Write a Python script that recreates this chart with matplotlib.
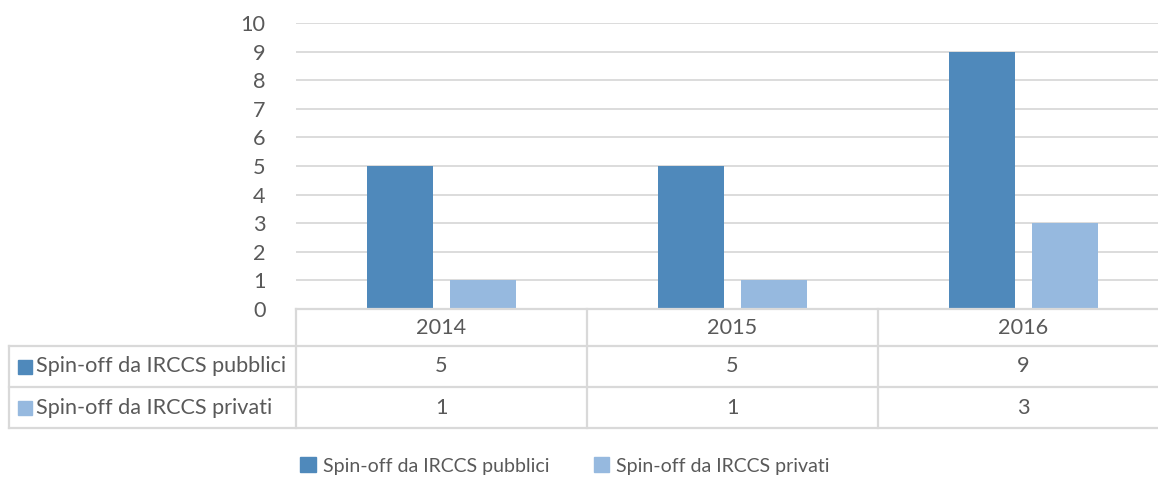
import matplotlib.pyplot as plt
import numpy as np
from matplotlib.patches import Rectangle

years = ['2014', '2015', '2016']
series = ['Spin-off da IRCCS pubblici', 'Spin-off da IRCCS privati']
pubblici = [5, 5, 9]
privati = [1, 1, 3]
colors = ['#4f89bb', '#96b9df']

W, H = 1158, 478
plt.rcParams['font.family'] = ['Lato', 'DejaVu Sans']
txt = '#595959'
grid = '#d9d9d9'
fs = 15.6

fig = plt.figure(figsize=(W/100, H/100), dpi=100)

# plot area (right edge runs past the picture, as in the original)
x0, x1 = 296, 1169
ax = fig.add_axes([x0/W, (H-309)/H, (x1-x0)/W, (309-23)/H])
x = np.arange(len(years))
bw = 0.225
ax.bar(x - 0.1426, pubblici, bw, color=colors[0], zorder=3)
ax.bar(x + 0.1426, privati, bw, color=colors[1], zorder=3)
ax.set_xlim(-0.5, 2.5)
ax.set_ylim(0, 10)
ax.set_yticks(range(0, 11))
ax.yaxis.grid(True, color=grid, lw=1.3, zorder=0)
ax.set_xticks([])
for s in ax.spines.values():
    s.set_visible(False)
ax.tick_params(axis='y', length=0, pad=22, labelsize=fs, labelcolor=txt)

# data table below the plot
tb = fig.add_axes([x0/W, (H-428)/H, (x1-x0)/W, (428-309)/H])
tb.set_xlim(-0.5, 2.5)
tb.set_ylim(119, 0)
tb.axis('off')
edges = [0, 37, 78, 119]
left = -0.5 - (x0 - 9) / 291
kw = dict(color=grid, lw=1.6, clip_on=False)
tb.plot([-0.5, 2.5], [0, 0], **kw)
for e in edges[1:]:
    tb.plot([left, 2.5], [e, e], **kw)
for xv in [-0.5, 0.5, 1.5]:
    tb.plot([xv, xv], [0, 119], **kw)
tb.plot([left, left], [37, 119], **kw)
for i, yr in enumerate(years):
    tb.text(i, 18.5, yr, ha='center', va='center', fontsize=fs, color=txt)
    tb.text(i, 57.5, str(pubblici[i]), ha='center', va='center', fontsize=fs, color=txt)
    tb.text(i, 98.5, str(privati[i]), ha='center', va='center', fontsize=fs, color=txt)
for r, (name, c) in enumerate(zip(series, colors)):
    yc = 57.5 + 41 * r
    tb.add_patch(Rectangle((left + 9/291, yc - 7), 14/291, 14, color=c, clip_on=False))
    tb.text(left + 27/291, yc, name, ha='left', va='center', fontsize=fs, color=txt)

handles = [Rectangle((0, 0), 1, 1, color=c) for c in colors]
fig.legend(handles, series, loc='center', bbox_to_anchor=(565/W, (H-466)/H), ncol=2,
           frameon=False, fontsize=14, labelcolor=txt, handlelength=0.8, handleheight=0.8,
           handletextpad=0.35, columnspacing=2.3)

fig.savefig('out.png', dpi=100)
